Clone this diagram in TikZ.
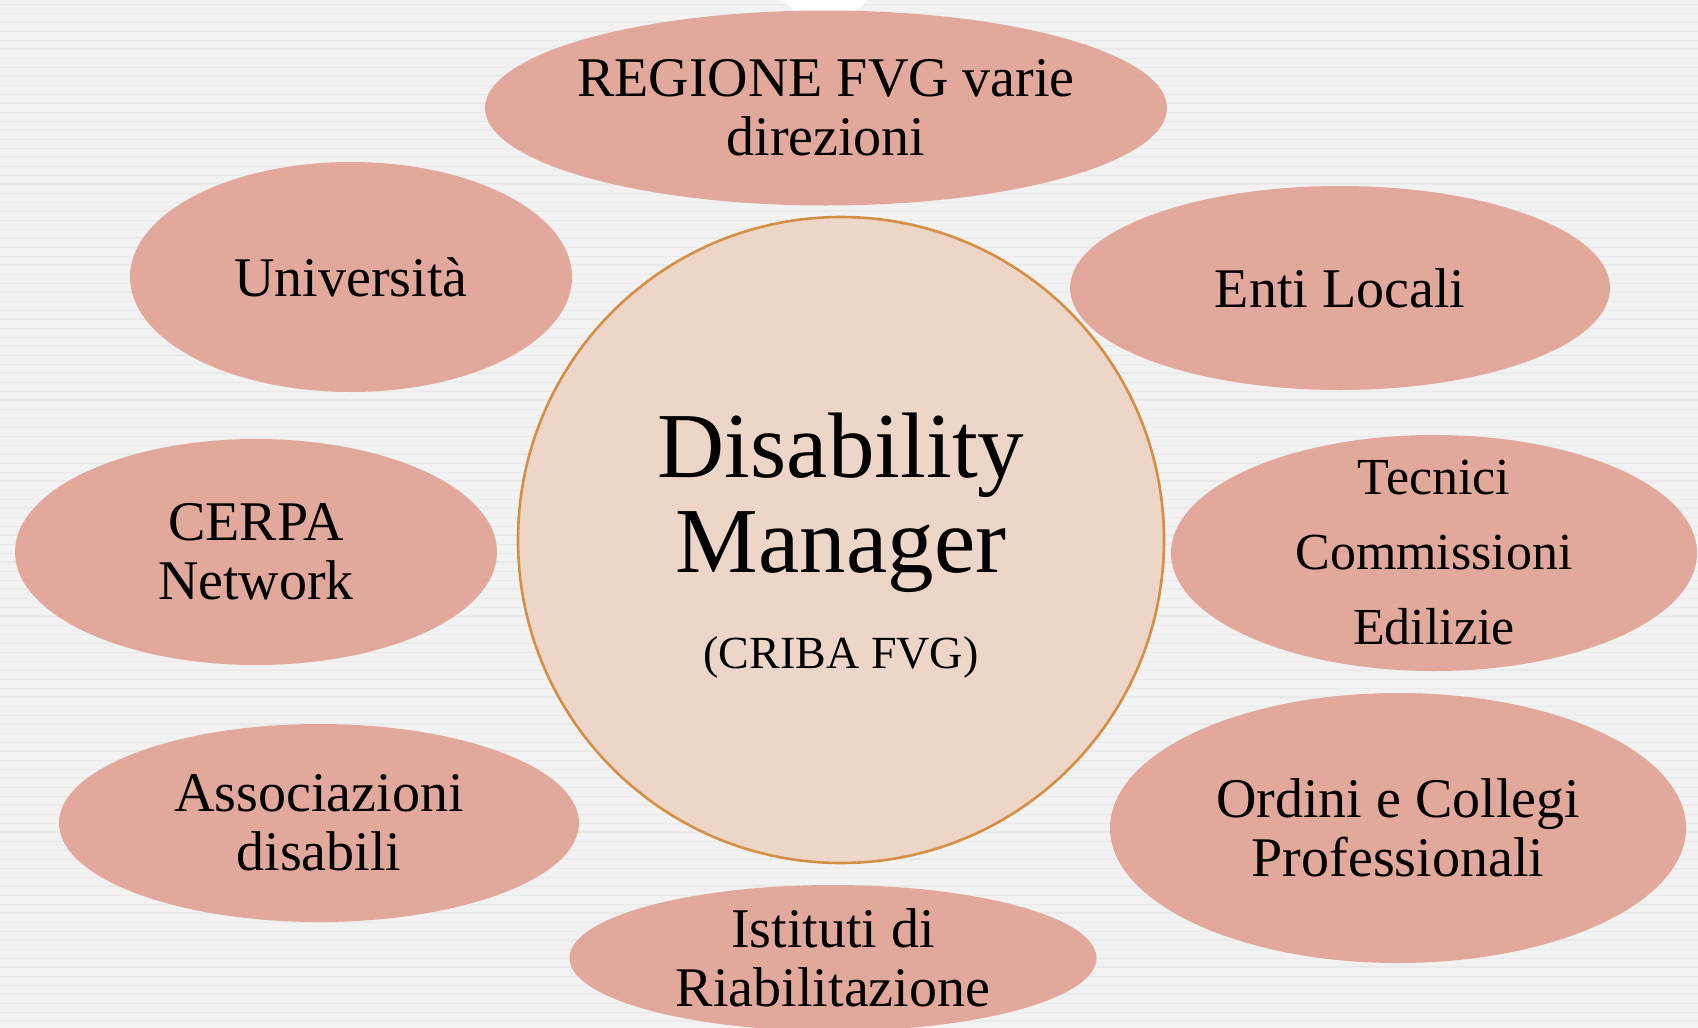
\documentclass[tikz,border=0pt]{standalone}
\usepackage{fontspec}
\setmainfont{Liberation Serif}
\usepackage{tikz}
\usetikzlibrary{shapes.geometric}

\definecolor{sfondo}{HTML}{F2F2F2}
\definecolor{riga}{HTML}{EAEAEA}
\definecolor{rosa}{HTML}{E0A192}
\definecolor{crema}{HTML}{EDD6C7}
\definecolor{bordo}{HTML}{D58F44}

\tikzset{
  partner/.style={ellipse, fill=rosa, fill opacity=0.9, inner sep=0pt},
  testo/.style={text opacity=1, align=center, font=\fontsize{56}{59}\selectfont},
  centro/.style={circle, fill=crema, draw=bordo, line width=2.6pt, inner sep=0pt},
}

\begin{document}
\begin{tikzpicture}[x=1pt, y=-1pt]
\def\W{1698}
\def\H{1028}

% =========================================================
% Hintergrund mit feinen Streifen
% =========================================================
\fill[sfondo] (0,0) rectangle (\W,\H);
\useasboundingbox (0,0) rectangle (\W,\H);
\foreach \y [count=\i] in {4,13,...,1028} {
  \pgfmathsetmacro{\lw}{mod(\i,3)==0 ? 1.8 : 0.9}
  \draw[riga, line width=\lw pt] (0,\y) -- (\W,\y);
}
% heller Kreis am oberen Rand
\fill[white] (825,-35) circle (55pt);

% =========================================================
% Partner (Ellipsen, Text in der Mitte)
% =========================================================
\node[partner, minimum width=682, minimum height=195,
  label={[testo]center:REGIONE FVG varie\\ direzioni}] (regione) at (826,108) {};
\node[partner, minimum width=442, minimum height=230,
  label={[testo]center:Università}] (univ) at (351,277) {};
\node[partner, minimum width=540, minimum height=204,
  label={[testo]center:Enti Locali}] (enti) at (1340,288) {};
\node[partner, minimum width=482, minimum height=226,
  label={[testo]center:CERPA\\ Network}] (cerpa) at (256,552) {};
\node[partner, minimum width=526, minimum height=236,
  label={[testo, font=\fontsize{52}{75}\selectfont]center:Tecnici\\ Commissioni\\ Edilizie}]
  (tecnici) at (1434,553) {};
\node[partner, minimum width=520, minimum height=198,
  label={[testo]center:Associazioni\\ disabili}] (assoc) at (319,823) {};
\node[partner, minimum width=576, minimum height=270,
  label={[testo]center:Ordini e Collegi\\ Professionali}] (ordini) at (1398,828) {};
\node[partner, minimum width=527, minimum height=146,
  label={[testo]center:Istituti di\\ Riabilitazione}] (istituti) at (833,958) {};

% =========================================================
% Mitte: Disability Manager
% =========================================================
\node[centro, minimum size=646] (dm) at (841,540) {};
\node[align=center, font=\fontsize{93}{95}\selectfont] (dmtitolo) at (841,503)
  {Disability\\ Manager};
\node[font=\fontsize{46}{50}\selectfont] (dmsotto) at (841,657) {(CRIBA FVG)};

\end{tikzpicture}
\end{document}
